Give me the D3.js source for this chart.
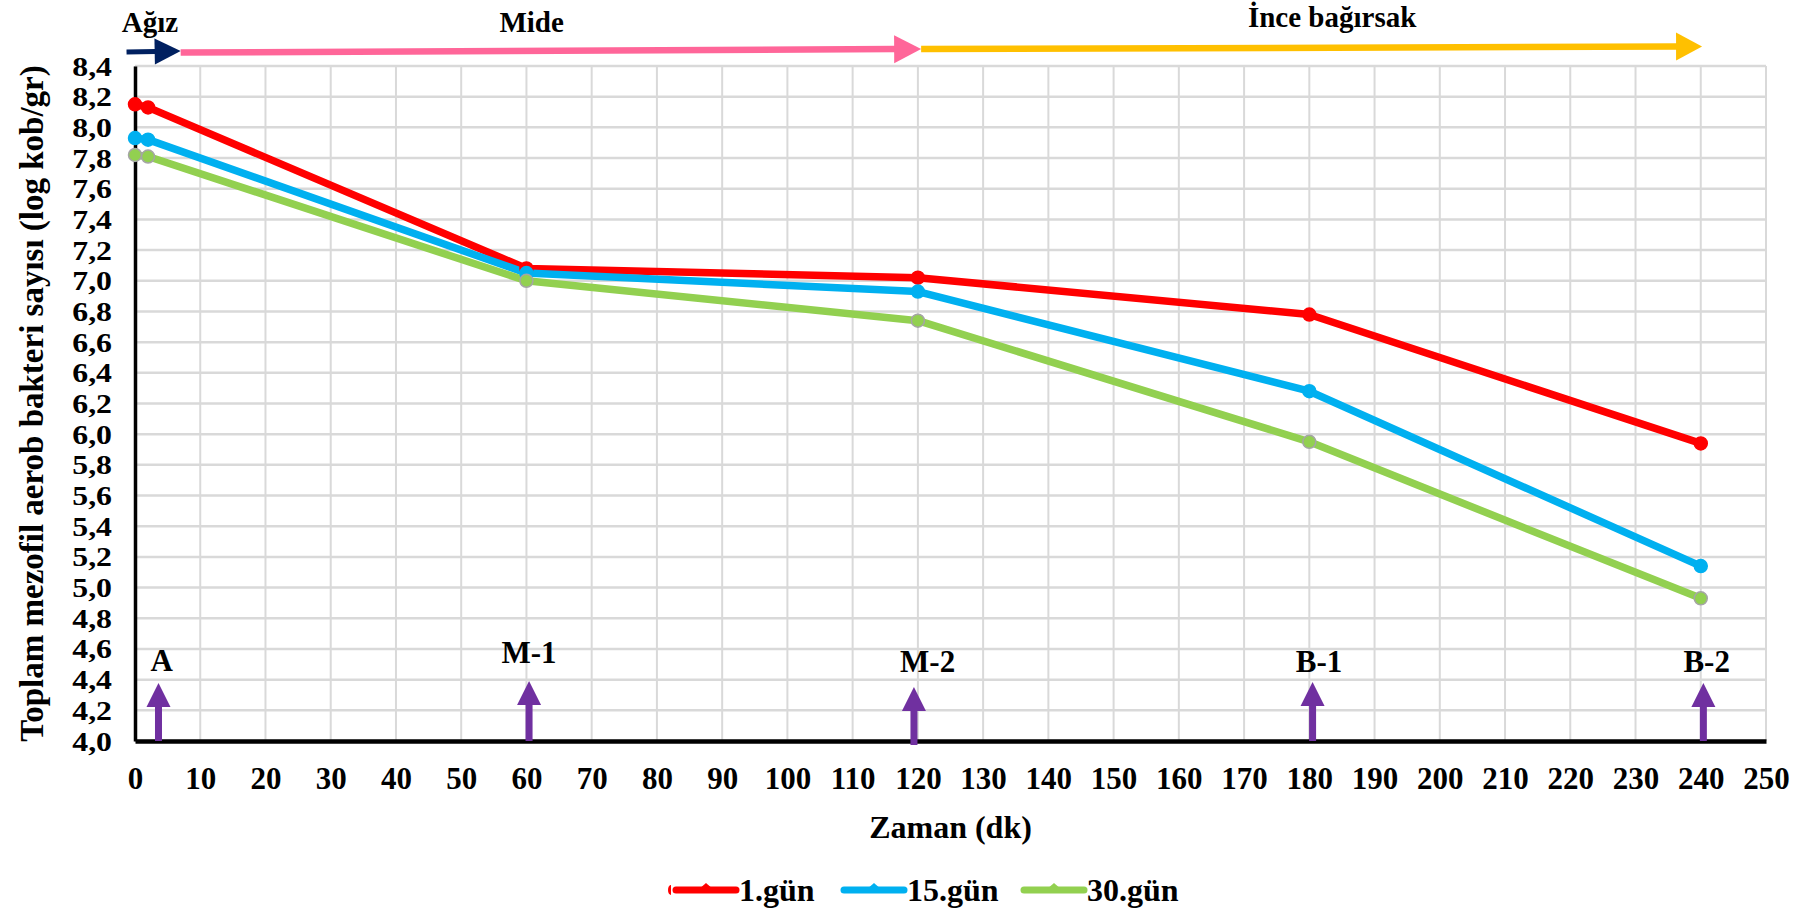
<!DOCTYPE html>
<html>
<head>
<meta charset="utf-8">
<script src="https://cdn.jsdelivr.net/npm/d3@7"></script>
<style>
  html, body { margin: 0; padding: 0; background: #fff; }
  svg { display: block; }
  text { font-family: "Liberation Serif", "Times New Roman", serif; font-weight: bold; fill: #000; }
</style>
</head>
<body>
<svg id="chart" width="1812" height="912"></svg>
<script>
// Sampling times (minutes) and bacterial counts (log cfu/g) per storage day
const times = [0, 2, 60, 120, 180, 240];
const seriesNames = ["1.gün", "15.gün", "30.gün"];
const day1 = [8.15, 8.13, 7.08, 7.02, 6.78, 5.94];
const day15 = [7.93, 7.92, 7.05, 6.93, 6.28, 5.14];
const day30 = [7.82, 7.81, 7.00, 6.74, 5.95, 4.93];
const seriesColors = ["#FF0000", "#00B0F0", "#92D050"];
const markerStrokes = ["#FF0000", "#00B0F0", "#A5A5A5"];

// Axis ticks
const xTicks = d3.range(0, 251, 10);
const yTicks = d3.range(0, 23).map(i => +(4 + i * 0.2).toFixed(1));

// Digestive stage labels (top) and sampling point labels (bottom)
const stageNames = ["Ağız", "Mide", "İnce bağırsak"];
const stageLabelX = [2.3, 60.8, 183.5];
const samplePoints = ["A", "M-1", "M-2", "B-1", "B-2"];
const sampleX = [3.6, 60.4, 119.4, 180.5, 240.4];
const sampleLabelX = [4.1, 60.4, 121.5, 181.5, 240.9];

const svg = d3.select("#chart");
const x = d3.scaleLinear().domain([0, 250]).range([135, 1766]);
const y = d3.scaleLinear().domain([4, 8.4]).range([741, 66]);

// Grid
const grid = svg.append("g");
grid.selectAll("line.v").data(xTicks).join("line")
  .attr("x1", d => x(d)).attr("x2", d => x(d))
  .attr("y1", y(8.4)).attr("y2", y(4))
  .attr("stroke", "#D9D9D9").attr("stroke-width", 2);
grid.selectAll("line.h").data(yTicks).join("line")
  .attr("x1", x(0)).attr("x2", x(250))
  .attr("y1", d => y(d)).attr("y2", d => y(d))
  .attr("stroke", "#D9D9D9").attr("stroke-width", 2.5);

// Axes
const fmt = d => d.toFixed(1).replace(".", ",");
const yAxis = svg.append("g").attr("transform", `translate(${x(0)},0)`)
  .call(d3.axisLeft(y).tickValues(yTicks).tickFormat(fmt).tickSize(0));
yAxis.select(".domain").attr("stroke", "#000").attr("stroke-width", 3.5);
// tick labels are set in a compact size and widened so the dense scale stays legible
yAxis.selectAll("text").style("font-size", "26.5px")
  .attr("x", 0).attr("dy", "0.34em")
  .attr("transform", "translate(-23,0) scale(1.2,1)");

const xAxis = svg.append("g").attr("transform", `translate(0,${y(4)})`)
  .call(d3.axisBottom(x).tickValues(xTicks).tickFormat(d3.format("d")).tickSize(0));
xAxis.select(".domain").attr("stroke", "#000").attr("stroke-width", 4.5);
xAxis.selectAll("text").style("font-size", "31px").attr("y", 48).attr("dy", 0);

// Axis titles
svg.append("text")
  .attr("transform", `translate(43,${(y(4) + y(8.4)) / 2}) rotate(-90)`)
  .attr("text-anchor", "middle").style("font-size", "33px")
  .text("Toplam mezofil aerob bakteri sayısı (log kob/gr)");
svg.append("text")
  .attr("x", (x(0) + x(250)) / 2).attr("y", 838)
  .attr("text-anchor", "middle").style("font-size", "32px")
  .text("Zaman (dk)");

// Stage arrows along the top
function arrow(x1, y1, x2, y2, color, w, headLen, headHalf) {
  const ang = Math.atan2(y2 - y1, x2 - x1);
  const bx = x2 - headLen * Math.cos(ang), by = y2 - headLen * Math.sin(ang);
  svg.append("line").attr("x1", x1).attr("y1", y1).attr("x2", bx + Math.cos(ang)).attr("y2", by + Math.sin(ang))
    .attr("stroke", color).attr("stroke-width", w);
  const px = -Math.sin(ang), py = Math.cos(ang);
  svg.append("path")
    .attr("d", `M${x2},${y2} L${bx + px * headHalf},${by + py * headHalf} L${bx - px * headHalf},${by - py * headHalf} Z`)
    .attr("fill", color);
}
arrow(x(-1.3), 52, x(7), 51, "#002060", 5, 26, 13);
arrow(x(7), 52.5, x(120.5), 49, "#FF6699", 6.5, 27, 14);
arrow(x(120.5), 49, x(240.2), 46.5, "#FFC000", 6.5, 26, 14);

const stageY = [32, 32, 27];
svg.selectAll("text.stage").data(stageNames).join("text")
  .attr("class", "stage")
  .attr("x", (d, i) => x(stageLabelX[i])).attr("y", (d, i) => stageY[i])
  .attr("text-anchor", "middle").style("font-size", "29px")
  .text(d => d);

// Sampling point arrows
const sampleTipY = [683, 681, 687, 682, 683];
const sampleLabelY = [671, 663, 672, 672, 672];
sampleX.forEach((sx, i) => {
  const cx = x(sx), tip = sampleTipY[i], base = tip + 24;
  svg.append("rect").attr("x", cx - 3.5).attr("y", base - 1).attr("width", 7)
    .attr("height", (i === 2 ? 745 : 741) - base + 1).attr("fill", "#7030A0");
  svg.append("path").attr("d", `M${cx},${tip} L${cx + 12},${base} L${cx - 12},${base} Z`).attr("fill", "#7030A0");
});
svg.selectAll("text.sample").data(samplePoints).join("text")
  .attr("class", "sample")
  .attr("x", (d, i) => x(sampleLabelX[i])).attr("y", (d, i) => sampleLabelY[i])
  .attr("text-anchor", "middle").style("font-size", "31px")
  .text(d => d);

// Series lines and markers
const allSeries = [day1, day15, day30];
const line = d3.line().x((d, i) => x(times[i])).y(d => y(d));
allSeries.forEach((vals, s) => {
  svg.append("path").datum(vals).attr("d", line)
    .attr("fill", "none").attr("stroke", seriesColors[s]).attr("stroke-width", 7.5)
    .attr("stroke-linejoin", "round");
});
allSeries.forEach((vals, s) => {
  svg.append("g").selectAll("circle").data(vals).join("circle")
    .attr("cx", (d, i) => x(times[i])).attr("cy", d => y(d)).attr("r", 6.5)
    .attr("fill", seriesColors[s]).attr("stroke", markerStrokes[s]).attr("stroke-width", 1.5);
});

// Legend
const legendX = [674, 842, 1022];
const legend = svg.append("g");
legend.append("path").attr("d", "M671,885 A3,5 0 0,0 671,895 Z").attr("fill", "#FF0000");
seriesNames.forEach((name, s) => {
  const lx = legendX[s], ly = 890;
  legend.append("line").attr("x1", lx + 2).attr("x2", lx + 62).attr("y1", ly).attr("y2", ly)
    .attr("stroke", seriesColors[s]).attr("stroke-width", 7).attr("stroke-linecap", "round");
  legend.append("path").attr("d", `M${lx + 24},${ly} L${lx + 32},${ly - 7} L${lx + 40},${ly} Z`)
    .attr("fill", seriesColors[s]);
  legend.append("text").attr("x", lx + 65).attr("y", ly + 11)
    .style("font-size", "32px").text(name);
});
</script>
</body>
</html>
